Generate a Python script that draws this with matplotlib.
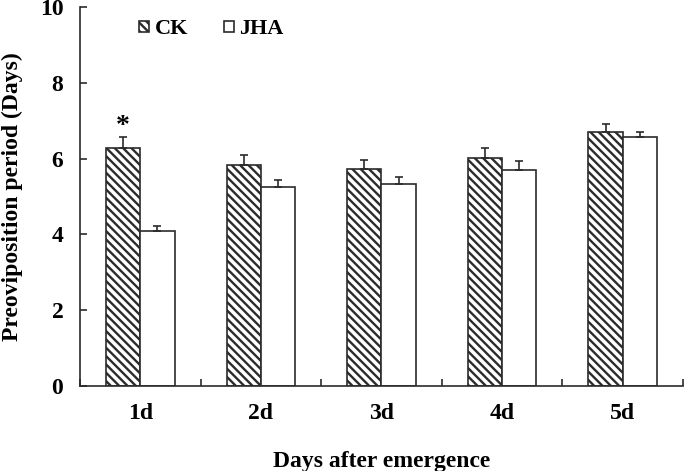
import matplotlib
matplotlib.use('Agg')
import matplotlib.pyplot as plt
import numpy as np

days = ['1d', '2d', '3d', '4d', '5d']
ck = [6.27, 5.83, 5.73, 6.02, 6.69]
ck_err = [0.29, 0.27, 0.24, 0.25, 0.22]
jha = [4.09, 5.26, 5.33, 5.70, 6.58]
jha_err = [0.13, 0.18, 0.19, 0.24, 0.12]

plt.rcParams['font.family'] = 'Liberation Serif'
plt.rcParams['font.weight'] = 'bold'
plt.rcParams['hatch.linewidth'] = 1.7
plt.rcParams['hatch.color'] = '#333333'

fs = 17

fig = plt.figure(figsize=(6.85, 4.71), dpi=100)
ax = fig.add_axes([80/685, 1-386/471, 603/685, 379/471])

x = np.arange(len(days))
w = 0.285
ec = '#2b2b2b'
ax.bar(x - w/2, ck, w, color='white', edgecolor=ec, hatch='\\\\\\\\', linewidth=1.2,
       yerr=[np.zeros(5), ck_err], error_kw=dict(ecolor=ec, elinewidth=1.2, capsize=3, capthick=1.2),
       label='CK')
ax.bar(x + w/2, jha, w, color='white', edgecolor=ec, linewidth=1.2,
       yerr=[np.zeros(5), jha_err], error_kw=dict(ecolor=ec, elinewidth=1.2, capsize=3, capthick=1.2),
       label='JHA')

ax.text(x[0] - w/2, ck[0] + ck_err[0] + 0.3, '*', ha='center', va='center', fontsize=20, fontweight='bold')

ax.set_xlim(-0.5, 4.5)
ax.set_ylim(0, 10)
ax.set_yticks([0, 2, 4, 6, 8, 10])
ax.set_xticks(x)
ax.set_xticklabels(days)
ax.set_xticks(np.arange(-0.5, 5, 1), minor=True)
ax.tick_params(axis='x', which='major', length=0, labelsize=fs, pad=12)
ax.tick_params(axis='x', which='minor', direction='in', length=5, width=1.2, color=ec)
ax.tick_params(axis='y', direction='in', length=5, width=1.2, color=ec, labelsize=fs, pad=12)
for s in ['top', 'right']:
    ax.spines[s].set_visible(False)
for s in ['left', 'bottom']:
    ax.spines[s].set_linewidth(1.2)
    ax.spines[s].set_color(ec)

ax.set_xlabel('Days after emergence', fontsize=fs, fontweight='bold', labelpad=20)
ax.set_ylabel('Preoviposition period (Days)', fontsize=fs, fontweight='bold', labelpad=12)

ax.legend(loc='upper left', bbox_to_anchor=(0.065, 1.02), ncol=2, frameon=False,
          fontsize=16, handlelength=0.45, handleheight=0.45, handletextpad=0.25, columnspacing=1.6)

fig.savefig('out.png', dpi=100)
